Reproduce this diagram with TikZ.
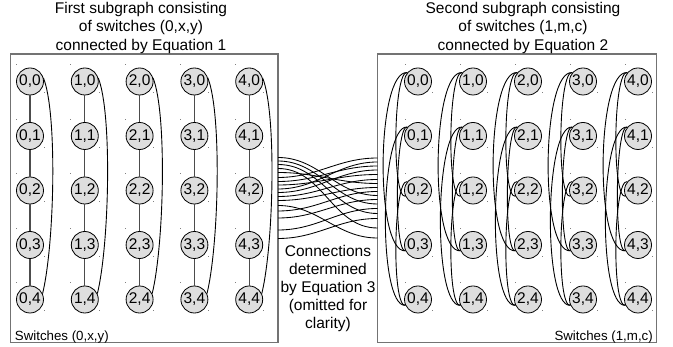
\documentclass[tikz,border=0pt]{standalone}
\usepackage{fontspec}
\setmainfont{Liberation Sans}
\begin{document}
\begin{tikzpicture}[x=1pt,y=1pt,
  sw/.style={circle, draw=black, line width=0.8pt, fill=black!13, minimum size=27pt,
    inner sep=0pt, font=\fontsize{15.5}{16}\selectfont},
  frame/.style={draw=black!55, line width=1.1pt},
  ring/.style={draw=black!70, line width=1.3pt},
  wrap/.style={draw=black, line width=0.9pt},
  link/.style={draw=black, line width=0.85pt},
  tick/.style={fill=black!50},
  caption/.style={align=center, inner sep=0pt, font=\fontsize{15.5}{18.5}\selectfont},
  tag/.style={inner sep=0pt, font=\fontsize{13.3}{14}\selectfont}]
\useasboundingbox (0,0) rectangle (673,347);
\fill[white] (0,0) rectangle (673,347);

% the two frames
\draw[frame] (10.7,4.3) rectangle (278,293);
\draw[frame] (377.5,4.3) rectangle (656.7,293);

% first subgraph: switches (0,x,y)
\foreach \c/\x in {0/30,1/84.8,2/139.6,3/194.4,4/249.2}{
  \foreach \r/\y in {0/265.5,1/211,2/156.5,3/102,4/47.5}{
    \node[sw] (A-\c-\r) at (\x,\y) {\c,\r};
    \fill[tick] (\x-14.5,\y+16) rectangle +(1,1);
    \fill[tick] (\x+13.8,\y-12) rectangle +(1,1);
  }
}
\foreach \c in {0,...,4}{
  \foreach \r/\s in {0/1,1/2,2/3,3/4}
    \draw[ring] (A-\c-\r) -- (A-\c-\s);
  \draw[wrap] (A-\c-0.15) .. controls +(14,-35) and +(12,50) .. (A-\c-4.25);
}

% second subgraph: switches (1,m,c)
\foreach \c/\x in {0/418,1/473,2/528,3/583,4/638}{
  \foreach \r/\y in {0/265.5,1/211,2/156.5,3/102,4/47.5}{
    \node[sw] (B-\c-\r) at (\x,\y) {\c,\r};
    \fill[tick] (\x-13.5,\y+16) rectangle +(1,1);
    \fill[tick] (\x+14.3,\y-12) rectangle +(1,1);
  }
}
\foreach \c in {0,...,4}{
  \foreach \a/\b/\w in {0/3/31,1/4/28,0/2/14,1/3/12,2/4/14}
    \draw[wrap] (B-\c-\a.140) .. controls +(-\w,3) and +(-\w,-2) .. (B-\c-\b.205);
}

% ends of the links between the subgraphs
\foreach \i/\y in {0/189.5,1/186,2/182.5,3/178.5,4/174.5,5/169.5,6/165.5,7/162,8/158,
  9/154.5,10/150.5,11/146.5,12/141.5,13/136,14/129,15/117,16/108.5}
  \coordinate (L\i) at (278,\y);
\foreach \i/\y in {0/189,1/185,2/181,3/177,4/172.5,5/167.5,6/163.5,7/159.5,8/155.5,
  9/151.5,10/147.5,11/143,12/138.5,13/133.5,14/128.5,15/119,16/109}
  \coordinate (R\i) at (377.5,\y);
\foreach \i/\j in {0/9,1/11,2/13,3/15,4/6,5/0,6/2,7/4,8/1,9/3,10/5,11/7,12/16,13/8,
  14/10,15/12,16/14}
  \draw[link] (L\i) to[out=0,in=180] (R\j);

% texts
\node[caption, anchor=north] (t1) at (141,345)
  {First subgraph consisting\\of switches (0,x,y)\\connected by Equation 1};
\node[caption, anchor=north] (t2) at (523,345)
  {Second subgraph consisting\\of switches (1,m,c)\\connected by Equation 2};
\node[caption, anchor=north, font=\fontsize{15.5}{17.8}\selectfont] (t3) at (328,101.5)
  {Connections\\determined\\by Equation 3\\(omitted for\\clarity)};
\node[tag, anchor=base west] (s1) at (14.7,6.7) {Switches (0,x,y)};
\node[tag, anchor=base east] (s2) at (653,6.7) {Switches (1,m,c)};
\end{tikzpicture}
\end{document}
